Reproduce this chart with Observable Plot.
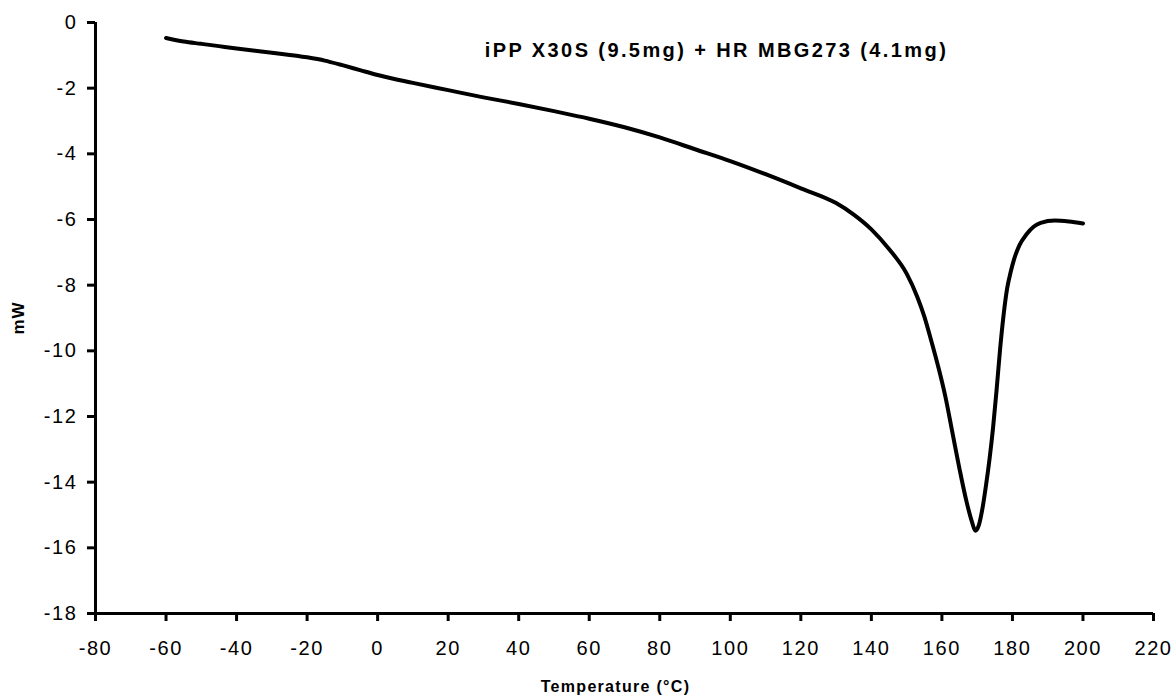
<!DOCTYPE html>
<html>
<head>
<meta charset="utf-8">
<script src="https://cdn.jsdelivr.net/npm/d3@7"></script>
<script src="https://cdn.jsdelivr.net/npm/@observablehq/plot@0.6"></script>
<style>
  html, body { margin: 0; padding: 0; background: #fff; }
</style>
</head>
<body>
<div id="chart"></div>
<script>
const temperature = [-60, -55, -50, -45, -40, -30, -20, -15, -10, -5, 0, 10, 20, 30, 40, 50, 60, 70, 80, 90, 100, 110, 120, 130, 135, 140, 145, 150, 153, 155, 157, 159, 161, 163, 165, 167, 168.5, 169.5, 170.5, 171.5, 172.5, 173.5, 174.5, 175.5, 176.5, 177.5, 178.5, 179.5, 180.5, 182, 184, 186, 188, 192, 196, 200];
const heatFlow = [-0.47, -0.58, -0.65, -0.72, -0.79, -0.92, -1.06, -1.16, -1.30, -1.45, -1.60, -1.84, -2.06, -2.28, -2.48, -2.70, -2.93, -3.19, -3.50, -3.86, -4.22, -4.62, -5.05, -5.5, -5.85, -6.3, -6.9, -7.65, -8.35, -8.95, -9.7, -10.5, -11.4, -12.5, -13.6, -14.6, -15.2, -15.48, -15.3, -14.8, -14.1, -13.3, -12.35, -11.2, -9.95, -8.9, -8.1, -7.6, -7.2, -6.78, -6.45, -6.22, -6.1, -6.03, -6.06, -6.12];
const xTicks = [-80, -60, -40, -20, 0, 20, 40, 60, 80, 100, 120, 140, 160, 180, 200, 220];
const yTicks = [0, -2, -4, -6, -8, -10, -12, -14, -16, -18];
const titleText = "iPP X30S (9.5mg) + HR MBG273 (4.1mg)";
const xLabel = "Temperature (°C)";
const yLabel = "mW";

const data = temperature.map((t, i) => ({t, v: heatFlow[i]}));

const chart = Plot.plot({
  width: 1176,
  height: 696,
  marginTop: 22,
  marginBottom: 83,
  marginLeft: 95,
  marginRight: 23,
  style: {fontFamily: "'Liberation Sans', Arial, sans-serif", fontSize: "20px", color: "#000", background: "#fff"},
  x: {domain: [-80, 220], ticks: xTicks, label: null},
  y: {domain: [-18, 0], ticks: yTicks, label: null},
  marks: [
    Plot.axisX({ticks: xTicks, tickSize: 8, tickPadding: 19, strokeWidth: 3, fontSize: 20, label: null, tickFormat: d => String(d)}),
    Plot.axisY({ticks: yTicks, tickSize: 8, tickPadding: 10, strokeWidth: 3, fontSize: 20, label: null, tickFormat: d => String(d)}),
    Plot.ruleX([-80], {strokeWidth: 3, stroke: "#000"}),
    Plot.ruleY([-18], {strokeWidth: 3, stroke: "#000"}),
    Plot.line(data, {x: "t", y: "v", stroke: "#000", strokeWidth: 4, curve: "monotone-x"}),
    Plot.text([titleText], {frameAnchor: "top", textAnchor: "middle", lineAnchor: "middle", dx: 92, dy: 28, fontSize: 20, fontWeight: "bold"}),
    Plot.text([yLabel], {frameAnchor: "left", textAnchor: "middle", lineAnchor: "middle", rotate: -90, dx: -77, fontSize: 17, fontWeight: "bold"}),
    Plot.text([xLabel], {frameAnchor: "bottom", textAnchor: "middle", lineAnchor: "middle", dx: -9, dy: 73, fontSize: 16, fontWeight: "bold"})
  ]
});
document.getElementById("chart").append(chart);

// widen glyph spacing to match the horizontally stretched reference
d3.select(chart).selectAll("text").each(function() {
  const s = this.textContent;
  let ls = "1.6px";
  if (s === titleText) ls = "2.4px";
  else if (s === xLabel) ls = "1.3px";
  else if (s === yLabel) ls = "1px";
  this.style.letterSpacing = ls;
});
</script>
</body>
</html>
